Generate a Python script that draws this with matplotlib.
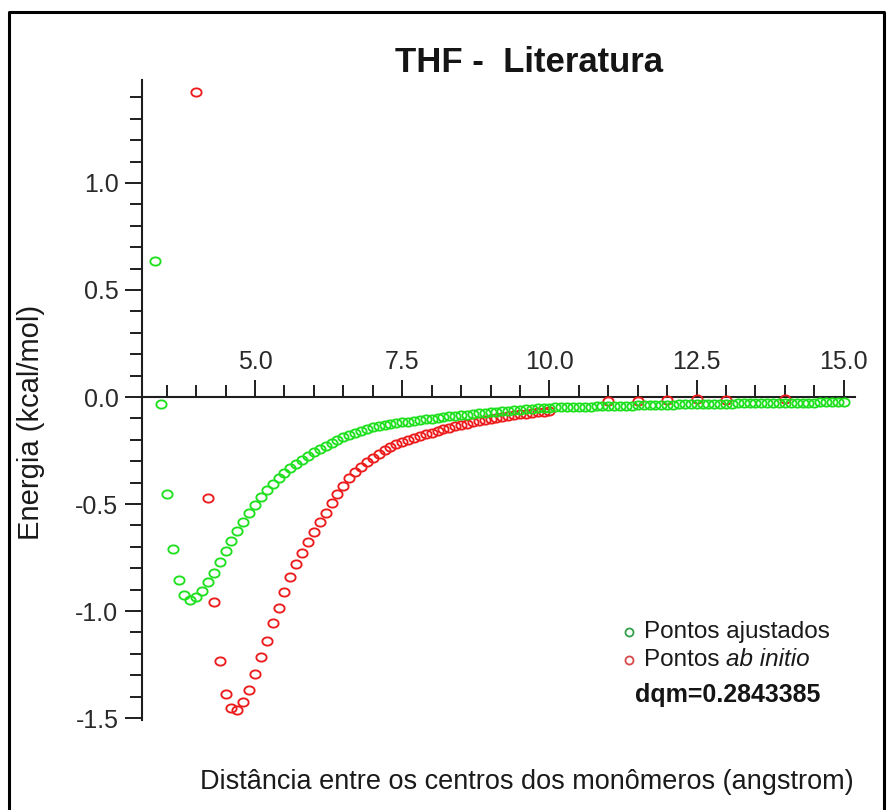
import matplotlib
matplotlib.use("Agg")
import matplotlib.pyplot as plt
import numpy as np
from matplotlib.path import Path
from matplotlib.lines import Line2D
from matplotlib.ticker import MultipleLocator, FormatStrFormatter

plt.rcParams["font.family"] = ["Liberation Sans", "DejaVu Sans"]
plt.rcParams["axes.unicode_minus"] = False

# ---------------- data ----------------
title = "THF -  Literatura"
xlabel = "Distância entre os centros dos monômeros (angstrom)"
ylabel = "Energia (kcal/mol)"
legend_fit = "Pontos ajustados"
legend_ab = ("Pontos ", "ab initio")
dqm_text = "dqm=0.2843385"

green_x = [3.3, 3.4, 3.5, 3.6, 3.7, 3.8, 3.9,
           4.0, 4.1, 4.2, 4.3, 4.4, 4.5, 4.6, 4.7, 4.8, 4.9,
           5.0, 5.1, 5.2, 5.3, 5.4, 5.5, 5.6, 5.7, 5.8, 5.9,
           6.0, 6.1, 6.2, 6.3, 6.4, 6.5, 6.6, 6.7, 6.8, 6.9,
           7.0, 7.1, 7.2, 7.3, 7.4, 7.5, 7.6, 7.7, 7.8, 7.9,
           8.0, 8.1, 8.2, 8.3, 8.4, 8.5, 8.6, 8.7, 8.8, 8.9,
           9.0, 9.1, 9.2, 9.3, 9.4, 9.5, 9.6, 9.7, 9.8, 9.9,
           10.0, 10.1, 10.2, 10.3, 10.4, 10.5, 10.6, 10.7, 10.8, 10.9,
           11.0, 11.1, 11.2, 11.3, 11.4, 11.5, 11.6, 11.7, 11.8, 11.9,
           12.0, 12.1, 12.2, 12.3, 12.4, 12.5, 12.6, 12.7, 12.8, 12.9,
           13.0, 13.1, 13.2, 13.3, 13.4, 13.5, 13.6, 13.7, 13.8, 13.9,
           14.0, 14.1, 14.2, 14.3, 14.4, 14.5, 14.6, 14.7, 14.8, 14.9, 15.0]
green_y = [0.635, -0.035, -0.453, -0.710, -0.855, -0.925, -0.950,
           -0.935, -0.905, -0.866, -0.820, -0.773, -0.720, -0.672, -0.624, -0.584, -0.542,
           -0.503, -0.468, -0.436, -0.405, -0.378, -0.353, -0.331, -0.311, -0.292, -0.276,
           -0.259, -0.243, -0.228, -0.214, -0.199, -0.188, -0.177, -0.166, -0.157, -0.149,
           -0.142, -0.137, -0.132, -0.127, -0.123, -0.119, -0.116, -0.113, -0.109, -0.105,
           -0.102, -0.099, -0.094, -0.090, -0.087, -0.084, -0.082, -0.079, -0.077, -0.074,
           -0.072, -0.069, -0.067, -0.064, -0.062, -0.059, -0.057, -0.055, -0.053, -0.051,
           -0.050, -0.049, -0.049, -0.048, -0.047, -0.047, -0.046, -0.045, -0.044, -0.043,
           -0.042, -0.042, -0.041, -0.040, -0.040, -0.039, -0.039, -0.038, -0.038, -0.037,
           -0.036, -0.036, -0.035, -0.035, -0.034, -0.034, -0.033, -0.033, -0.032, -0.032,
           -0.031, -0.031, -0.030, -0.030, -0.030, -0.029, -0.029, -0.029, -0.028, -0.028,
           -0.027, -0.027, -0.027, -0.026, -0.026, -0.026, -0.025, -0.025, -0.025, -0.024, -0.024]

red_x = [4.0, 4.2, 4.3, 4.4, 4.5, 4.6, 4.7, 4.8, 4.9,
         5.0, 5.1, 5.2, 5.3, 5.4, 5.5, 5.6, 5.7, 5.8, 5.9,
         6.0, 6.1, 6.2, 6.3, 6.4, 6.5, 6.6, 6.7, 6.8, 6.9,
         7.0, 7.1, 7.2, 7.3, 7.4, 7.5, 7.6, 7.7, 7.8, 7.9,
         8.0, 8.1, 8.2, 8.3, 8.4, 8.5, 8.6, 8.7, 8.8, 8.9,
         9.0, 9.1, 9.2, 9.3, 9.4, 9.5, 9.6, 9.7, 9.8, 9.9,
         10.0, 11.0, 11.5, 12.0, 12.5, 13.0, 14.0]
red_y = [1.427, -0.474, -0.956, -1.234, -1.388, -1.455, -1.463, -1.424, -1.369,
         -1.294, -1.213, -1.139, -1.058, -0.988, -0.911, -0.843, -0.782, -0.728, -0.676,
         -0.629, -0.582, -0.540, -0.497, -0.455, -0.415, -0.380, -0.352, -0.327, -0.305,
         -0.285, -0.266, -0.248, -0.232, -0.218, -0.208, -0.199, -0.191, -0.183, -0.175,
         -0.167, -0.158, -0.150, -0.143, -0.137, -0.130, -0.124, -0.118, -0.113, -0.108,
         -0.103, -0.098, -0.094, -0.090, -0.085, -0.081, -0.078, -0.075, -0.072, -0.069,
         -0.066, -0.021, -0.019, -0.012, -0.010, -0.014, -0.011]

x_limits = (3.08, 15.19)
y_limits = (-1.509, 1.481)

# ---------------- figure ----------------
W, H = 889, 810
fig = plt.figure(figsize=(W / 100, H / 100), dpi=100)
fig.patch.set_facecolor("white")


def fx(px):
    return px / W


def fy(py):
    return 1 - py / H


ax = fig.add_axes([fx(142), fy(720), fx(855) - fx(142), fy(80) - fy(720)])
ax.set_facecolor("white")

# elliptical open marker (the reference circles are slightly wide)
t = np.linspace(0, 2 * np.pi, 49)
ell = Path(np.column_stack([1.25 * np.cos(t), np.sin(t)]))

GREEN = "#1ee01e"
RED = "#ec1c1c"

ax.plot(red_x, red_y, linestyle="none", marker=ell, markersize=7.4,
        mfc="none", mec=RED, mew=1.35, zorder=3)
ax.plot(green_x, green_y, linestyle="none", marker=ell, markersize=7.4,
        mfc="none", mec=GREEN, mew=1.35, zorder=4)

ax.set_xlim(*x_limits)
ax.set_ylim(*y_limits)

AX_COLOR = "#1e1e1e"
for s in ("right", "bottom"):
    ax.spines[s].set_visible(False)
ax.spines["left"].set_linewidth(1.5)
ax.spines["left"].set_color(AX_COLOR)
ax.spines["top"].set_position(("data", 0))
ax.spines["top"].set_linewidth(1.5)
ax.spines["top"].set_color(AX_COLOR)

ax.xaxis.set_ticks_position("top")
ax.xaxis.set_major_locator(MultipleLocator(2.5))
ax.xaxis.set_minor_locator(MultipleLocator(0.5))
ax.xaxis.set_major_formatter(FormatStrFormatter("%.1f"))
ax.yaxis.set_major_locator(MultipleLocator(0.5))
ax.yaxis.set_minor_locator(MultipleLocator(0.1))
ax.yaxis.set_major_formatter(FormatStrFormatter("%.1f"))

ax.tick_params(axis="both", which="major", direction="out", length=12.5,
               width=1.4, color=AX_COLOR, labelsize=18, labelcolor="#2a2a2a")
ax.tick_params(axis="both", which="minor", direction="out", length=8.3,
               width=1.4, color=AX_COLOR)
ax.tick_params(axis="x", which="major", pad=4)
ax.tick_params(axis="y", which="major", pad=4.5)

# texts
fig.text(fx(529), fy(72), title, ha="center", va="baseline",
         fontsize=25, fontweight="bold", color="#151515")
fig.text(fx(31), fy(422), ylabel, ha="center", va="center", rotation=90,
         fontsize=21, color="#1a1a1a")
fig.text(fx(527), fy(789), xlabel, ha="center", va="baseline",
         fontsize=19.5, color="#1a1a1a")

# legend (hand placed)
fig.add_artist(Line2D([fx(629)], [fy(632)], marker="o", markersize=5.8,
                      mfc="none", mec="#33a04c", mew=1.3, linestyle="none"))
fig.add_artist(Line2D([fx(629)], [fy(660)], marker="o", markersize=5.8,
                      mfc="none", mec="#d84848", mew=1.3, linestyle="none"))
fig.text(fx(644), fy(638), legend_fit, ha="left", va="baseline",
         fontsize=17.5, color="#1a1a1a")
t1 = fig.text(fx(644), fy(666), legend_ab[0], ha="left", va="baseline",
              fontsize=17.5, color="#1a1a1a")
fig.canvas.draw()
bb = t1.get_window_extent()
fig.text(bb.x1 / W, fy(666), legend_ab[1], ha="left", va="baseline",
         fontsize=17.5, style="italic", color="#1a1a1a")
fig.text(fx(635), fy(702), dqm_text, ha="left", va="baseline",
         fontsize=18, fontweight="bold", color="#151515")

# outer frame (left, top, right)
frame_kw = dict(color="#000000", linewidth=2.2, transform=fig.transFigure)
fig.add_artist(Line2D([fx(8.5), fx(8.5), fx(884), fx(884)],
                      [fy(812), fy(11.5), fy(11.5), fy(812)], **frame_kw))

fig.savefig("out.png", dpi=100, facecolor="white")
